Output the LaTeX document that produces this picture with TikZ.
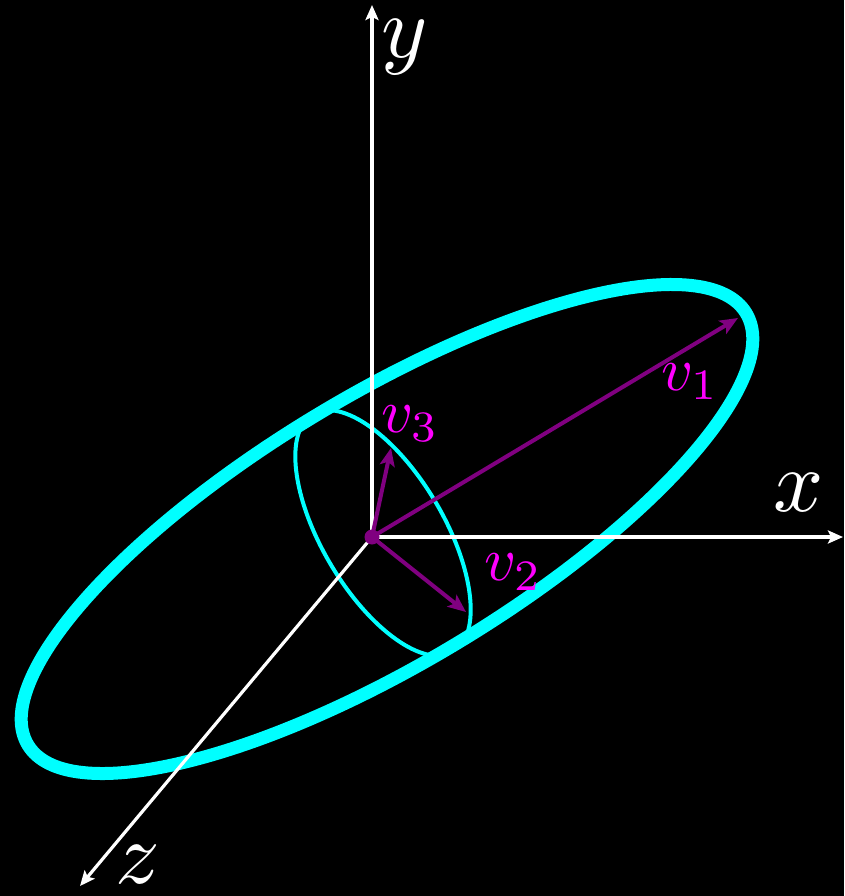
\documentclass[tikz,border=0pt]{standalone}
\usetikzlibrary{arrows.meta}
\definecolor{cyanline}{HTML}{00FFFF}
\definecolor{vecpurple}{HTML}{800080}
\definecolor{labmag}{HTML}{FF00FF}
\tikzset{
  axis/.style={white, line width=3.2pt, -{Stealth[length=15pt,width=13pt,inset=3pt]}},
  vec/.style={vecpurple, line width=4pt, -{Stealth[length=18pt,width=15pt,inset=4pt]}},
  axlab/.style={white, font=\normalsize, scale=8.8, inner sep=0pt},
  veclab/.style={labmag, font=\normalsize, scale=6.2, inner sep=0pt},
}
\begin{document}
\begin{tikzpicture}[x=1pt,y=1pt]
\fill[black] (0,0) rectangle (844,-896);
\useasboundingbox (0,0) rectangle (844,-896);
% inner ellipse, clipped to the outer one
\begin{scope}
\clip (387,-529) [rotate around={31:(387,-529)}] ellipse [x radius=419, y radius=134];
\draw[cyanline, line width=4pt] (383,-533) [rotate around={-59.4:(383,-533)}] ellipse [x radius=138, y radius=61];
\end{scope}
% outer ellipse
\draw[cyanline, line width=13pt] (387,-529) [rotate around={31:(387,-529)}] ellipse [x radius=419, y radius=134];
% axes
\coordinate (O) at (372,-537);
\coordinate (Y) at (372,-5);
\coordinate (X) at (843,-537);
\coordinate (Z) at (80,-886);
\draw[axis] (O) -- (Y);
\draw[axis] (O) -- (X);
\draw[axis] (O) -- (Z);
\node[axlab] (ly) at (405,-47) {$y$};
\node[axlab] (lx) at (799,-493) {$x$};
\node[axlab] (lz) at (138,-865) {$z$};
% vectors
\coordinate (V1) at (738,-318);
\coordinate (V2) at (466,-612);
\coordinate (V3) at (391,-448);
\draw[vec] (O) -- (V1);
\draw[vec] (O) -- (V2);
\draw[vec] (O) -- (V3);
\fill[vecpurple] (O) circle (7.5pt);
\node[veclab] (l1) at (690,-382) {$v_1$};
\node[veclab] (l3) at (410,-424) {$v_3$};
\node[veclab] (l2) at (513,-572) {$v_2$};
\end{tikzpicture}
\end{document}
